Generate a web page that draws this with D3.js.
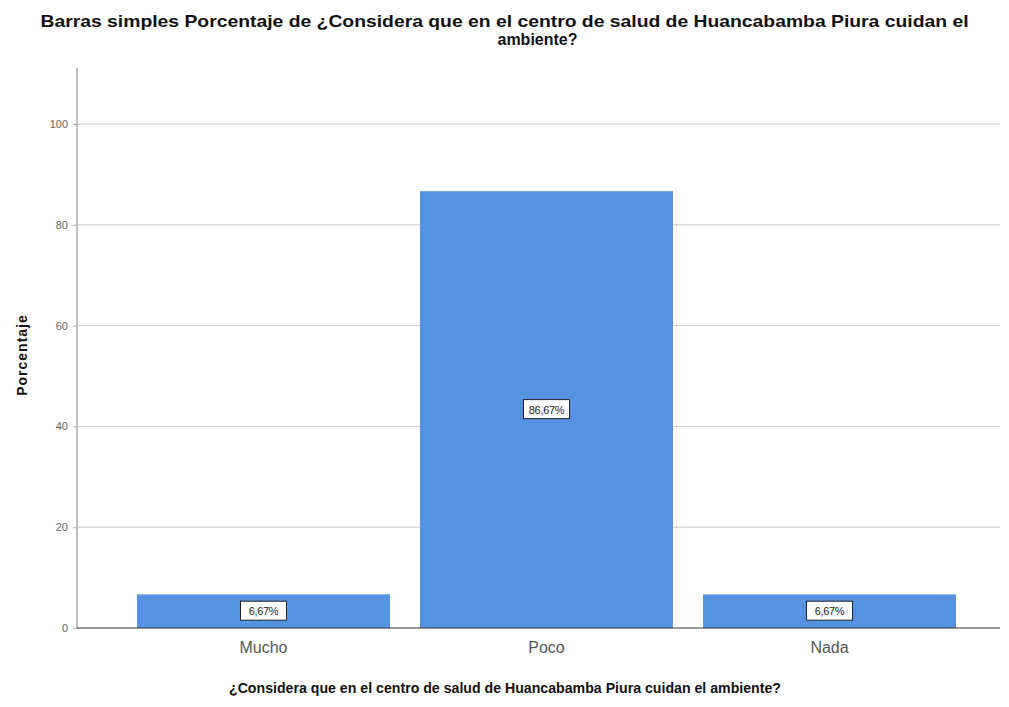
<!DOCTYPE html>
<html>
<head>
<meta charset="utf-8">
<script src="https://cdn.jsdelivr.net/npm/d3@7"></script>
<style>
  body { margin: 0; background: #fff; }
  text { font-family: "Liberation Sans", Arial, sans-serif; }
</style>
</head>
<body>
<div id="chart"></div>
<script>
// data
var categories = ['Mucho', 'Poco', 'Nada'];
var percentages = [6.67, 86.67, 6.67];
var barLabels = ['6,67%', '86,67%', '6,67%'];
var yTicks = [0, 20, 40, 60, 80, 100];

var width = 1009;
var height = 707;
var plotLeft = 77;
var plotRight = 1000;
var plotTop = 68;
var plotBottom = 628;

var svg = d3.select('div#chart')
    .append('svg')
    .attr('width', width)
    .attr('height', height);

var x = d3.scaleBand()
    .domain(categories)
    .range([107, 986])
    .padding(0.106);

var y = d3.scaleLinear()
    .domain([0, 100])
    .range([plotBottom, 124]);

// gridlines
svg.append('g')
    .selectAll('line')
    .data(yTicks.filter(d => d > 0))
    .enter()
    .append('line')
    .attr('x1', plotLeft)
    .attr('x2', plotRight)
    .attr('y1', d => y(d))
    .attr('y2', d => y(d))
    .attr('stroke', '#c9c9c9')
    .attr('stroke-width', 1);

// bars
svg.append('g')
    .selectAll('rect')
    .data(percentages)
    .enter()
    .append('rect')
    .attr('x', (d, i) => x(categories[i]))
    .attr('y', d => y(d))
    .attr('width', x.bandwidth())
    .attr('height', d => plotBottom - y(d))
    .attr('fill', '#5592e2');

// y axis
var yAxis = svg.append('g')
    .attr('transform', 'translate(' + plotLeft + ',0)')
    .call(d3.axisLeft(y).tickValues(yTicks).tickSize(4).tickPadding(5));
yAxis.select('.domain').remove();
yAxis.selectAll('.tick line').attr('stroke', '#aaa');
yAxis.selectAll('.tick text')
    .attr('fill', '#666')
    .style('font-size', '11px');

svg.append('line')
    .attr('x1', plotLeft)
    .attr('x2', plotLeft)
    .attr('y1', plotTop)
    .attr('y2', plotBottom)
    .attr('stroke', '#aaa')
    .attr('stroke-width', 1.5);

// x axis
var xAxis = svg.append('g')
    .attr('transform', 'translate(0,' + plotBottom + ')')
    .call(d3.axisBottom(x).tickSize(0).tickPadding(14));
xAxis.select('.domain').remove();
xAxis.selectAll('.tick text')
    .attr('fill', '#555')
    .style('font-size', '16px');

svg.append('line')
    .attr('x1', plotLeft)
    .attr('x2', plotRight)
    .attr('y1', plotBottom)
    .attr('y2', plotBottom)
    .attr('stroke', '#333')
    .attr('stroke-width', 1);

// value labels in boxes
var labels = svg.append('g')
    .selectAll('g')
    .data(percentages)
    .enter()
    .append('g')
    .attr('transform', (d, i) => 'translate(' + (x(categories[i]) + x.bandwidth() / 2) + ',' + (y(d / 2)) + ')');

labels.append('rect')
    .attr('x', -23)
    .attr('y', -10)
    .attr('width', 46)
    .attr('height', 19)
    .attr('fill', '#fff')
    .attr('stroke', '#222')
    .attr('stroke-width', 1);

labels.append('text')
    .attr('text-anchor', 'middle')
    .attr('y', 4)
    .attr('fill', '#222')
    .style('font-size', '11px')
    .style('letter-spacing', '-0.3px')
    .text((d, i) => barLabels[i]);

// titles
svg.append('text')
    .attr('x', width / 2)
    .attr('y', 27)
    .attr('text-anchor', 'middle')
    .attr('textLength', 928)
    .attr('lengthAdjust', 'spacingAndGlyphs')
    .style('font-size', '17px')
    .style('font-weight', 'bold')
    .attr('fill', '#111')
    .text('Barras simples Porcentaje de ¿Considera que en el centro de salud de Huancabamba Piura cuidan el');

svg.append('text')
    .attr('x', width / 2 + 33)
    .attr('y', 45)
    .attr('text-anchor', 'middle')
    .style('font-size', '16px')
    .style('font-weight', 'bold')
    .attr('fill', '#111')
    .text('ambiente?');

svg.append('text')
    .attr('x', 505)
    .attr('y', 693)
    .attr('text-anchor', 'middle')
    .attr('textLength', 552)
    .attr('lengthAdjust', 'spacingAndGlyphs')
    .style('font-size', '15px')
    .style('font-weight', 'bold')
    .attr('fill', '#111')
    .text('¿Considera que en el centro de salud de Huancabamba Piura cuidan el ambiente?');

svg.append('text')
    .attr('transform', 'translate(27,355) rotate(-90)')
    .attr('text-anchor', 'middle')
    .style('font-size', '14px')
    .style('font-weight', 'bold')
    .style('letter-spacing', '1px')
    .attr('fill', '#111')
    .text('Porcentaje');
</script>
</body>
</html>
